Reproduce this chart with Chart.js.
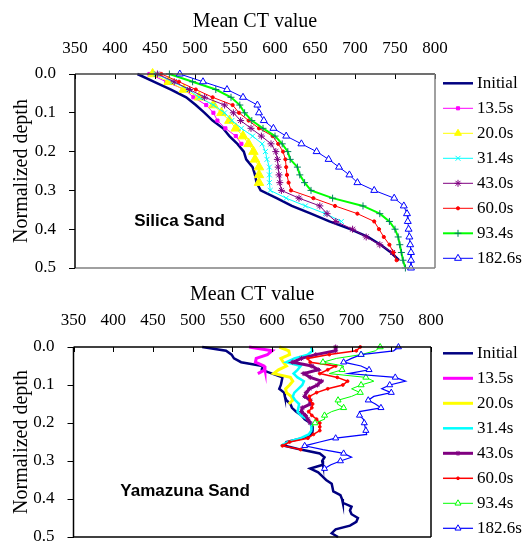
<!DOCTYPE html>
<html>
<head>
<meta charset="utf-8">
<script src="https://cdn.jsdelivr.net/npm/chart.js@4"></script>
<style>
  html, body { margin: 0; padding: 0; background: #fff; }
  #wrap { position: relative; width: 523px; height: 542px; overflow: hidden; }
  canvas { position: absolute; left: 0; }
  #silica { top: 0; }
  #yamazuna { top: 271px; }
</style>
</head>
<body>
<div id="wrap">
  <canvas id="silica" width="523" height="285"></canvas>
  <canvas id="yamazuna" width="523" height="271"></canvas>
</div>
<script>
const seriesNames = ['Initial', '13.5s', '20.0s', '31.4s', '43.0s', '60.0s', '93.4s', '182.6s'];

// Silica Sand: mean CT value at each normalized depth
const depthTop = [0, 0.02, 0.04, 0.06, 0.08, 0.1, 0.12, 0.14, 0.16, 0.18, 0.2, 0.22, 0.24,
                  0.26, 0.28, 0.3, 0.32, 0.34, 0.36, 0.38, 0.4, 0.42, 0.44, 0.46, 0.48, 0.5];
const silicaInitial = [428, 449, 470, 489, 501, 512, 522, 535, 543, 553, 561, 564, 572, 575, 577, 582, 602, 621, 645, 668, 694, 716, 732, 745, 755];
const silica135 = [443, 464, 487, 498, 514, 523, 528, 538, 551, 558];
const silica200 = [447, 467, 486, 505, 523, 533, 543, 551, 560, 567, 573, 575, 580, 580, 580];
const silica314 = [451, 472, 492, 505, 523, 537, 546, 558, 572, 584, 588, 590, 593, 593, 593, 594, 614, 638, 663, 683];
const silica430 = [453, 474, 493, 512, 537, 548, 557, 570, 583, 595, 601, 603, 604, 605, 606, 608, 630, 656, 665, 676, 697, 714, 731, 747];
const silica600 = [458, 480, 501, 522, 547, 555, 567, 580, 597, 604, 610, 613, 614, 615, 617, 620, 648, 675, 703, 724, 730, 736, 743, 748, 752];
const silica934 = [468, 497, 526, 545, 556, 562, 571, 585, 600, 609, 616, 619, 628, 631, 637, 645, 672, 710, 731, 743, 750, 754, 756, 758, 760, 763];
const silica1826 = [481, 510, 540, 560, 578, 580, 586, 598, 614, 633, 652, 667, 680, 693, 703, 724, 749, 761, 765, 766, 767, 768, 769, 770, 770, 770];

// Yamazuna Sand
const depthBottom = [0, 0.01, 0.02, 0.03, 0.04, 0.05, 0.06, 0.07, 0.08, 0.09, 0.1, 0.11, 0.12, 0.13, 0.14, 0.15, 0.16,
                     0.17, 0.18, 0.19, 0.2, 0.21, 0.22, 0.23, 0.24, 0.25, 0.26, 0.27, 0.28, 0.29, 0.3, 0.31, 0.32, 0.33,
                     0.34, 0.35, 0.36, 0.37, 0.38, 0.39, 0.4, 0.41, 0.42, 0.43, 0.44, 0.45, 0.46, 0.47, 0.48, 0.49, 0.5];
const yamaInitial = [512, 542, 549, 552, 561, 588, 587, 600, 613, 612, 611, 609, 615, 616, 618, 623, 625, 630, 637, 641,
                     648, 651, 651, 650, 638, 618, 616, 636, 660, 666, 663, 664, 648, 658, 663, 668, 675, 676, 677, 686,
                     688, 689, 700, 698, 700, 708, 706, 698, 680, 675, 683];
const yama135 = [571, 600, 594, 580, 579, 590, 591, 582];
const yama200 = [609, 621, 622, 611, 614, 618, 608, 602, 623, 626, 622, 617, 618, 624, 626, 621];
const yama314 = [649, 651, 645, 628, 618, 636, 632, 627, 632, 640, 638, 633, 628, 626, 629, 634, 633, 632, 636, 644, 649, 650, 649, 646, 636, 620, 611];
const yama430 = [680, 680, 655, 637, 626, 650, 658, 640, 648, 662, 657, 647, 643, 641, 648, 648, 638, 637, 642, 645, 648];
const yama600 = [711, 706, 672, 645, 648, 680, 670, 660, 682, 695, 689, 670, 656, 647, 648, 651, 650, 646, 650, 656, 660, 660, 660, 652, 645, 622, 613, 636];
const yama934 = [736, 730, 712, 681, 664, 690, 688, 672, 718, 728, 712, 700, 711, 700, 683, 682, 690, 675, 666, 666, 654, 650];
const yama1826 = [759, 753, 712, 700, 690, 712, 722, 696, 755, 768, 748, 738, 750, 728, 721, 730, 737, 710, 710, 715, 716,
                  717, 718, 719, 680, 660, 641, 664, 690, 700, 686, 674, 666];

Chart.defaults.font.family = '"Liberation Serif", "Times New Roman", serif';
Chart.defaults.color = '#000';

const topStyles = [
  { color: '#000080', width: 2.5 },
  { color: '#FF00FF', width: 1, point: 'rect', r: 2.2 },
  { color: '#FFFF00', width: 1, point: 'triangle', r: 5.5 },
  { color: '#00FFFF', width: 1, point: 'crossRot', r: 3.5 },
  { color: '#800080', width: 1, point: 'star', r: 3.5 },
  { color: '#FF0000', width: 1, point: 'circle', r: 1.6 },
  { color: '#00FF00', width: 2, point: 'cross', r: 3.5, pointColor: '#008060' },
  { color: '#0000FF', width: 1, point: 'triangle', r: 4, fill: '#ffffff' }
];
const bottomStyles = [
  { color: '#000080', width: 2.5 },
  { color: '#FF00FF', width: 3 },
  { color: '#FFFF00', width: 3 },
  { color: '#00FFFF', width: 2.5 },
  { color: '#800080', width: 3, point: 'star', r: 2.5 },
  { color: '#FF0000', width: 1.5, point: 'circle', r: 1.4 },
  { color: '#00FF00', width: 1, point: 'triangle', r: 3.5, fill: '#ffffff', every: 2 },
  { color: '#0000FF', width: 1.2, point: 'triangle', r: 3.5, fill: '#ffffff', every: 2 }
];

function buildSets(depth, series, styles) {
  return series.map((vals, i) => {
    const st = styles[i];
    let radius = 0;
    if (st.point) radius = st.every ? (c => (c.dataIndex % st.every ? 0 : st.r)) : st.r;
    return {
      label: seriesNames[i],
      data: vals.map((v, k) => ({ x: v, y: depth[k] })),
      borderColor: st.color,
      borderWidth: st.width,
      pointStyle: st.point || 'circle',
      pointRadius: radius,
      pointBackgroundColor: st.fill || st.pointColor || st.color,
      pointBorderColor: st.pointColor || st.color,
      pointBorderWidth: 1,
      markR: st.point ? st.r : 0,
      order: 8 - i,
      clip: false,
      tension: 0,
      fill: false
    };
  });
}

// frame, inward top ticks, sample name and legend
const frameAndLegend = {
  id: 'frameAndLegend',
  afterDatasetsDraw(chart, args, opts) {
    const { ctx, chartArea: a, scales: { x, y } } = chart;
    ctx.save();
    ctx.lineWidth = 1;
    ctx.strokeStyle = '#000';
    x.ticks.forEach(t => {
      const px = Math.round(x.getPixelForValue(t.value)) + 0.5;
      ctx.beginPath();
      ctx.moveTo(px, a.top);
      ctx.lineTo(px, a.top + 5);
      ctx.stroke();
    });
    const c = opts.frame;
    ctx.lineWidth = 1.5;
    const side = (col, x1, y1, x2, y2) => {
      ctx.strokeStyle = col;
      ctx.beginPath(); ctx.moveTo(x1, y1); ctx.lineTo(x2, y2); ctx.stroke();
    };
    side(c[0], a.left, a.top, a.right, a.top);
    side(c[1], a.right, a.top, a.right, a.bottom);
    side(c[2], a.left, a.bottom, a.right, a.bottom);
    side(c[3], a.left, a.top, a.left, a.bottom);

    ctx.fillStyle = '#000';
    ctx.textBaseline = 'middle';
    ctx.textAlign = 'left';
    ctx.font = 'bold 17px "Liberation Sans", Arial, sans-serif';
    ctx.fillText(opts.label, x.getPixelForValue(opts.labelAt[0]), y.getPixelForValue(opts.labelAt[1]));

    ctx.font = '17px "Liberation Serif", "Times New Roman", serif';
    chart.data.datasets.forEach((ds, i) => {
      const ly = opts.legendTop + i * 25;
      ctx.strokeStyle = ds.borderColor;
      ctx.lineWidth = ds.borderWidth;
      ctx.beginPath();
      ctx.moveTo(443, ly);
      ctx.lineTo(473, ly);
      ctx.stroke();
      if (ds.markR) {
        ctx.fillStyle = ds.pointBackgroundColor;
        ctx.strokeStyle = ds.pointBorderColor;
        ctx.lineWidth = 1;
        Chart.helpers.drawPoint(ctx, { pointStyle: ds.pointStyle, radius: Math.min(ds.markR, 4), rotation: 0, borderWidth: 1 }, 458, ly);
      }
      ctx.fillStyle = '#000';
      ctx.fillText(ds.label, 477, ly);
    });
    ctx.restore();
  }
};

function makeChart(id, datasets, lay) {
  return new Chart(document.getElementById(id), {
    type: 'line',
    data: { datasets },
    options: {
      responsive: false,
      animation: false,
      layout: { padding: { left: 0, top: 0, right: lay.right, bottom: lay.bottom } },
      plugins: {
        legend: { display: false },
        tooltip: { enabled: false },
        frameAndLegend: lay.extra
      },
      scales: {
        x: {
          type: 'linear', position: 'top', min: 350, max: 800,
          ticks: { stepSize: 50, autoSkip: false, maxRotation: 0, padding: lay.xPad, color: '#000', font: { size: 17 } },
          grid: { display: false, drawTicks: false },
          border: { display: false },
          title: { display: true, text: 'Mean CT value', color: '#000', font: { size: 20 }, padding: { top: lay.titlePad, bottom: 0 } },
          afterFit: s => { s.height = lay.top; s.paddingLeft = 0; s.paddingRight = 0; }
        },
        y: {
          type: 'linear', reverse: true, min: 0, max: 0.5,
          ticks: { stepSize: 0.1, padding: 13, color: '#000', font: { size: 17 }, callback: v => v.toFixed(1) },
          grid: { drawOnChartArea: false, drawTicks: true, tickLength: 6, color: '#000' },
          border: { display: false },
          title: { display: true, text: 'Normalized depth', color: '#000', font: { size: 20 }, padding: { top: 10, bottom: 0 } },
          afterFit: s => { s.width = lay.left; s.paddingTop = 0; s.paddingBottom = 0; }
        }
      }
    },
    plugins: [frameAndLegend]
  });
}

makeChart('silica',
  buildSets(depthTop, [silicaInitial, silica135, silica200, silica314, silica430, silica600, silica934, silica1826], topStyles),
  { left: 75, right: 88, top: 74, bottom: 17, xPad: 15, titlePad: 9.5,
    extra: { frame: ['#404040', '#808080', '#808080', '#000'], label: 'Silica Sand', labelAt: [424, 0.38], legendTop: 83.3 } });

makeChart('yamazuna',
  buildSets(depthBottom, [yamaInitial, yama135, yama200, yama314, yama430, yama600, yama934, yama1826], bottomStyles),
  { left: 73.5, right: 92, top: 76, bottom: 3, xPad: 16, titlePad: 12,
    extra: { frame: ['#000', '#000', '#000', '#000'], label: 'Yamazuna Sand', labelAt: [409, 0.38], legendTop: 82.3 } });
</script>
</body>
</html>
